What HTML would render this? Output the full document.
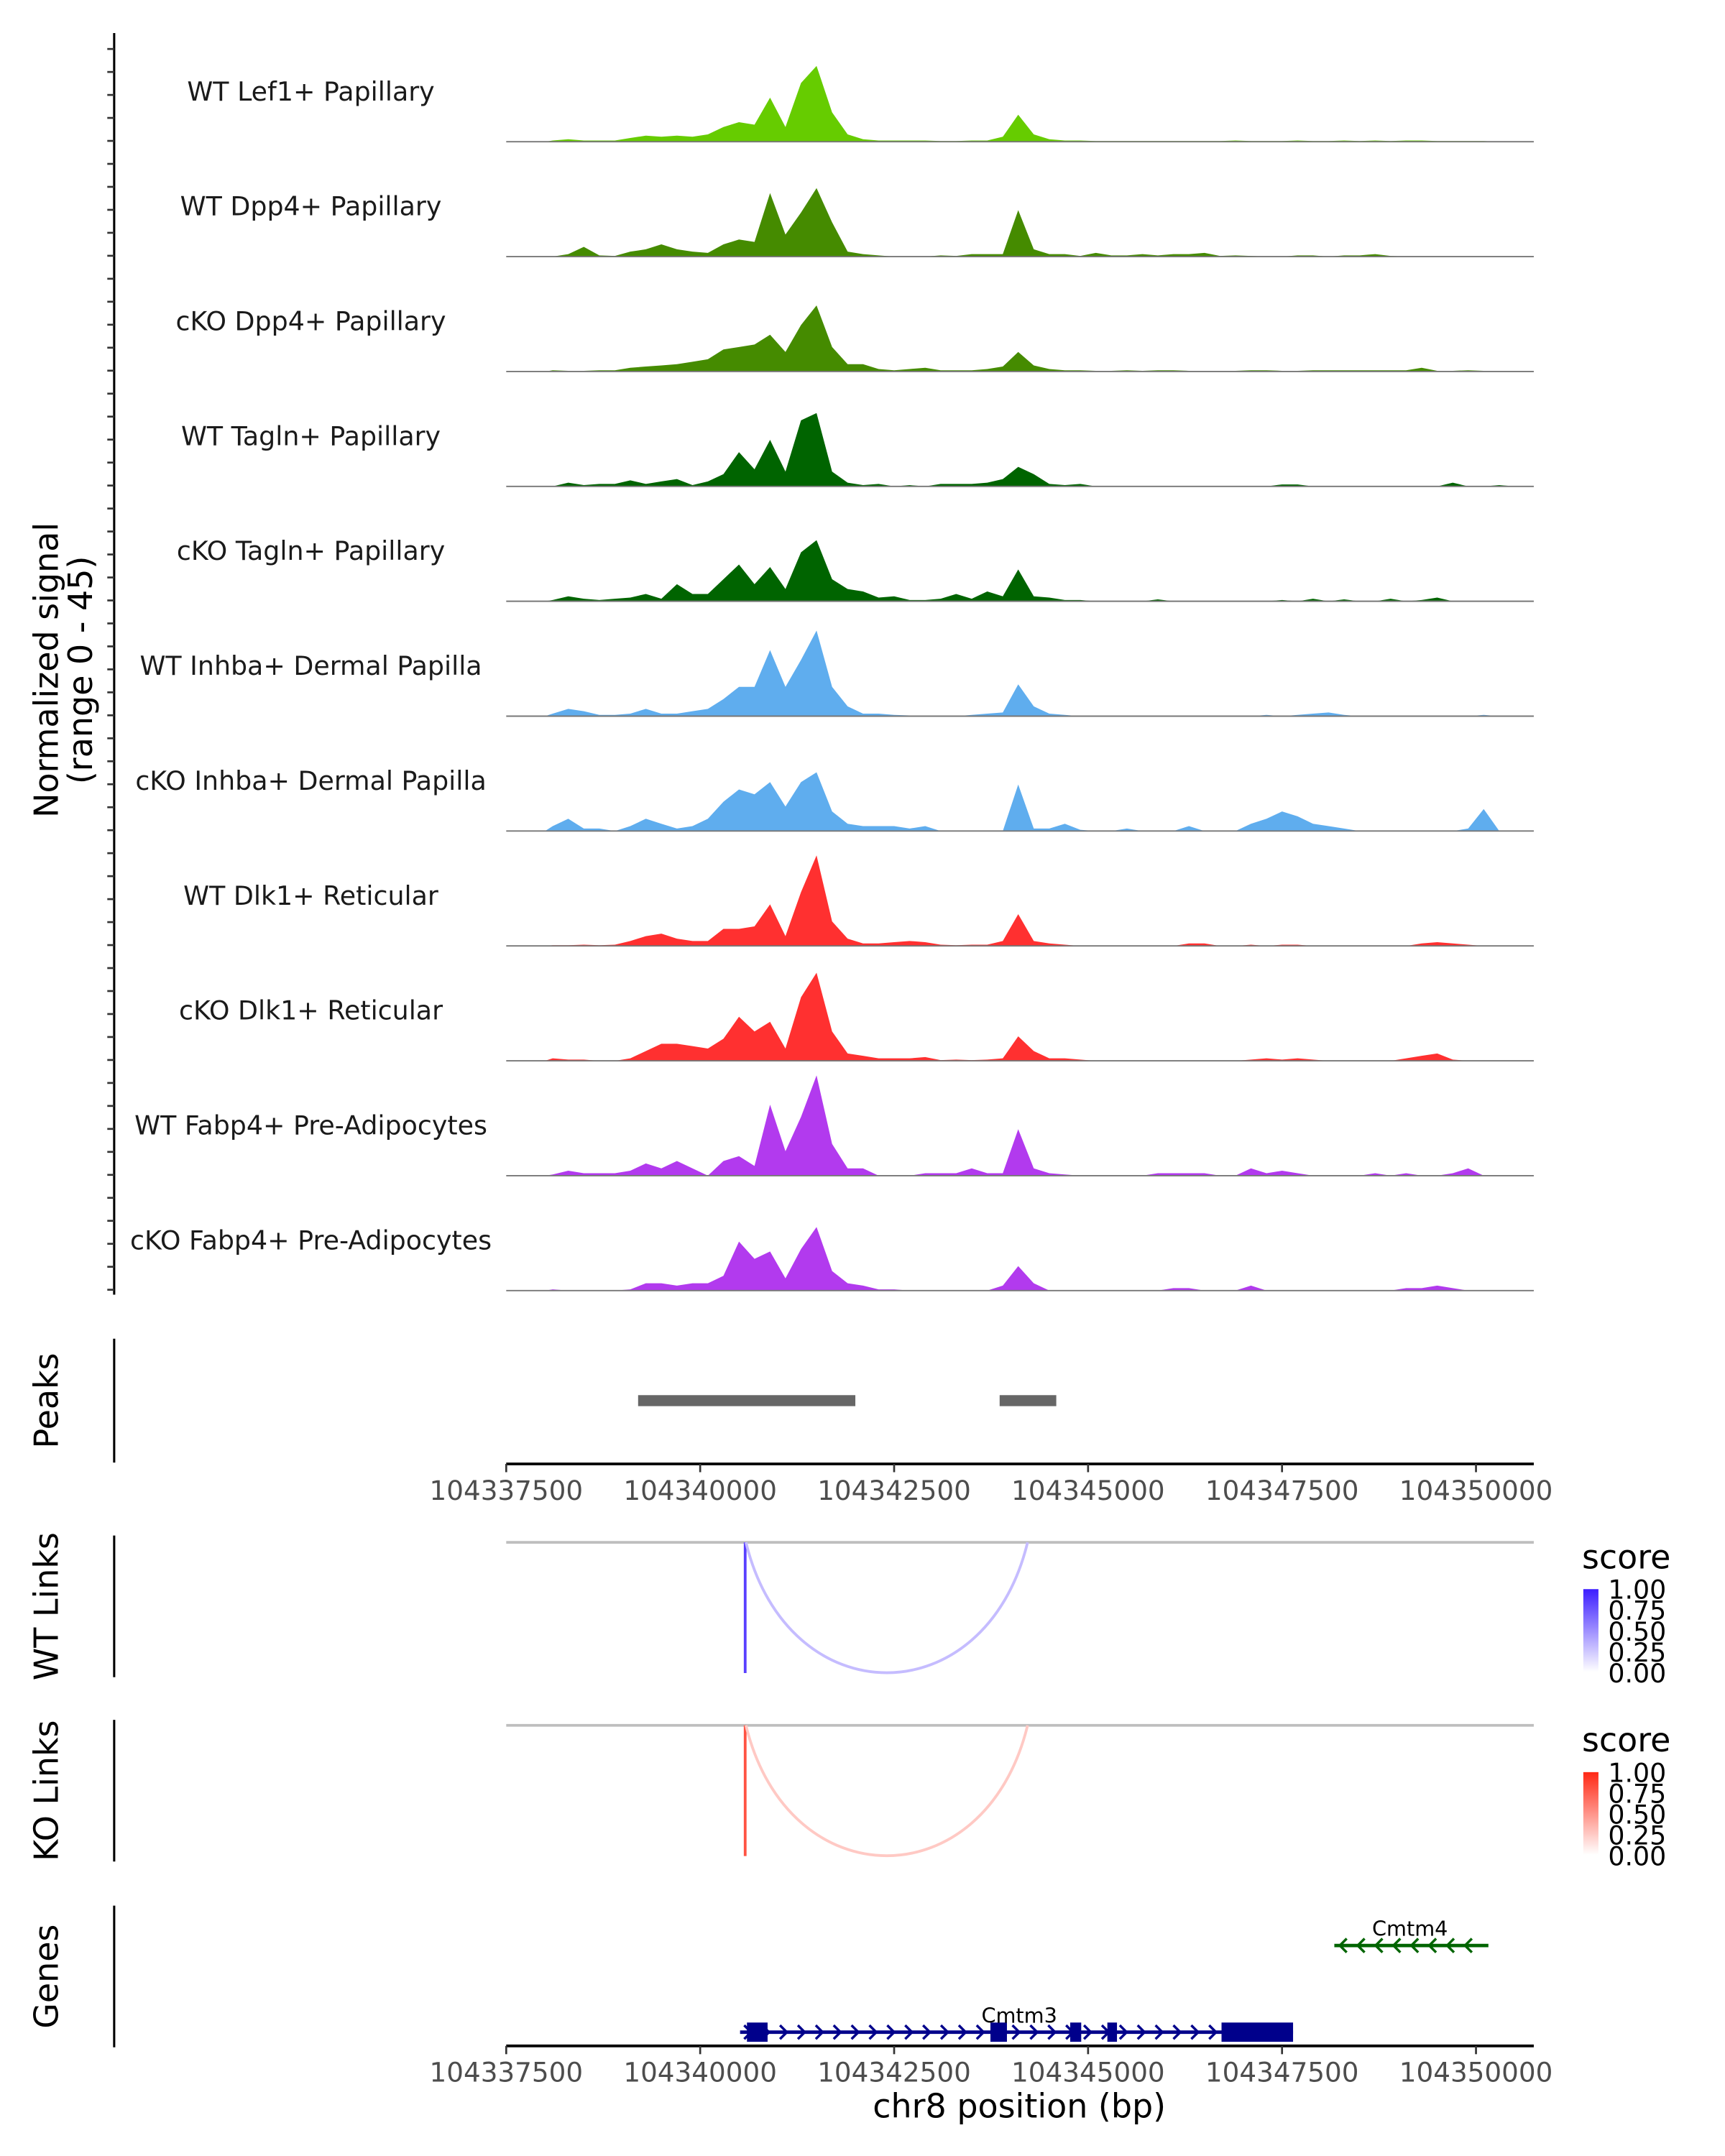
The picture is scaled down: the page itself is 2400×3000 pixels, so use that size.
<!DOCTYPE html>
<html><head><meta charset="utf-8"><style>
html,body{margin:0;padding:0;background:#fff}
svg{display:block}
text{font-family:"DejaVu Sans","Liberation Sans",sans-serif}
</style></head><body>
<svg id="chart" xmlns="http://www.w3.org/2000/svg" width="2400" height="3000" viewBox="0 0 1254 1567" preserveAspectRatio="none">
<g id="g"></g>
</svg>
<script>
const trackNames=["WT Lef1+ Papillary","WT Dpp4+ Papillary","cKO Dpp4+ Papillary","WT Tagln+ Papillary","cKO Tagln+ Papillary","WT Inhba+ Dermal Papilla","cKO Inhba+ Dermal Papilla","WT Dlk1+ Reticular","cKO Dlk1+ Reticular","WT Fabp4+ Pre-Adipocytes","cKO Fabp4+ Pre-Adipocytes"];
const trackColors=["#66cc00","#458b00","#458b00","#006400","#006400","#5fadee","#5fadee","#ff3030","#ff3030","#b23aee","#b23aee"];
const binStart=104338000;
const binWidth=200;
const sLef1=[0.5,1,0.5,0.5,0.5,1.5,2.5,2,2.5,2,3,6,8,7,18,6,24,31,12,3,1,0.5,0.5,0.5,0.5,0.3,0.3,0.5,0.5,2,11,3,1,0.5,0.5,0.3,0.3,0.3,0.3,0.3,0.3,0.3,0.3,0.3,0.5,0.3,0.3,0.3,0.5,0.3,0.3,0.5,0.3,0.5,0.3,0.5,0.5,0.3,0.3,0.3,0.3,0,0];
const sDpp4WT=[0,1,4,0.5,0.3,2,3,5,3,2,1.5,5,7,6,26,9,18,28,14,2,1,0.5,0,0,0,0.5,0.3,1,1,1,19,3,1,1,0.3,1.5,0.5,0.5,1,0.5,1,1,1.5,0.3,0.5,0.3,0,0,0.5,0.5,0,0.5,0.5,1,0.3,0,0,0,0,0,0,0,0];
const sDpp4KO=[0.5,0.3,0.3,0.5,0.5,1.5,2,2.5,3,4,5,9,10,11,15,8,19,27,10,3,3,1,0.5,1,1.5,0.5,0.5,0.5,1,2,8,2.5,1,0.5,0.5,0.3,0.3,0.5,0.3,0.5,0.5,0.3,0.3,0.3,0.3,0.5,0.5,0.3,0.3,0.5,0.5,0.5,0.5,0.5,0.5,0.5,1.5,0.3,0.3,0.5,0.3,0,0];
const sTaglnWT=[0,1.5,0.5,1,1,2.5,1,2,3,0.5,2,5,14,7,19,6,27,30,6,1.5,0.5,1,0,0.5,0,1,1,1,1.5,3,8,5,1,0.5,1,0,0,0,0,0,0,0,0,0,0,0,0,0.8,0.8,0,0,0,0,0,0,0,0,0,1.5,0,0,0.5,0];
const sTaglnKO=[0.5,2,1,0.5,1,1.5,3,1,7,3,3,9,15,7,14,5,20,25,9,5,4,1.5,2,0.5,0.5,1,3,1,4,2,13,2,1.5,0.5,0.5,0,0,0,0,0.8,0,0,0,0,0,0,0,0.5,0,1,0,0.8,0,0,1,0,0.5,1.5,0,0,0,0,0];
const sInhbaWT=[1,3,2,0.5,0.5,1,3,1,1,2,3,7,12,12,27,12,23,35,12,4,1,1,0.5,0.3,0.3,0,0,0.5,1,1.5,13,4,1,0.5,0,0,0,0,0,0,0,0,0,0,0,0,0.5,0,0.5,1,1.5,0.5,0,0,0,0,0,0,0,0,0.5,0,0];
const sInhbaKO=[2,5,1,1,0,2,5,3,1,2,5,12,17,15,20,10,20,24,8,3,2,2,2,1,2,0,0,0,0,0,19,1,1,3,0.5,0,0,1,0,0,0,2,0,0,0,3,5,8,6,3,2,1,0,0,0,0,0,0,0,1,9,0,0];
const sDlk1WT=[0.3,0.3,0.5,0.3,0.5,2,4,5,3,2,2,7,7,8,17,4,22,37,10,3,1,1,1.5,2,1.5,0.5,0.3,0.5,0.5,2,13,2,1,0.5,0,0,0,0,0,0,0,1,1,0,0,0.5,0,0.5,0.5,0,0,0,0,0,0,0,1,1.5,1,0.5,0,0,0];
const sDlk1KO=[1,0.5,0.5,0,0,1,4,7,7,6,5,9,18,12,16,5,26,36,12,3,2,1,1,1,1.5,0.3,0.5,0.3,0.5,1,10,4,1,1,0.5,0,0,0,0,0,0,0,0,0,0,0.5,1,0.5,1,0.5,0,0,0,0,0,1,2,3,0.5,0,0,0,0];
const sFabp4WT=[0.5,2,1,1,1,2,5,3,6,3,0,6,8,4,29,10,24,41,13,3,3,0,0,0,1,1,1,3,1,1,19,3,1,0.5,0,0,0,0,0,1,1,1,1,0,0,3,1,2,1,0,0,0,0,1,0,1,0,0,1,3,0,0,0];
const sFabp4KO=[0.5,0,0,0,0,0.5,3,3,2,3,3,6,20,13,16,5,17,26,8,3,2,0.5,0.5,0,0,0,0,0,0,2,10,3,0,0,0,0,0,0,0,0,1,1,0,0,0,2,0,0,0,0,0,0,0,0,0,1,1,2,1,0,0,0,0];
const signals=[sLef1,sDpp4WT,sDpp4KO,sTaglnWT,sTaglnKO,sInhbaWT,sInhbaKO,sDlk1WT,sDlk1KO,sFabp4WT,sFabp4KO];
const peakStarts=[104339200,104343860];
const peakEnds=[104342000,104344590];
const xTicks=[104337500,104340000,104342500,104345000,104347500,104350000];
const linkStarts=[104340580,104340590];
const linkEnds=[104340600,104344220];
const wtScores=[0.85,0.3];
const koScores=[0.8,0.25];
const legendTicks=["1.00","0.75","0.50","0.25","0.00"];

const NS="http://www.w3.org/2000/svg";
const g=document.getElementById('g');
function el(tag,attrs,parent){const e=document.createElementNS(NS,tag);for(const k in attrs)e.setAttribute(k,attrs[k]);(parent||g).appendChild(e);return e;}
const X0=368,X1=1115,D0=104337500,D1=104350745;
function xs(bp){return X0+(bp-D0)/(D1-D0)*(X1-X0);}
const maxRange=45,trackH=80;
function ys(v,base){return base-v/maxRange*trackH;}
const base0=103,trackStep=83.5;

let ax=el('line',{x1:83,y1:24,x2:83,y2:941,stroke:'#000','stroke-width':1.6});

for(let y=35.6;y<=940;y+=16.7){let t=el('line',{x1:78,y1:y,x2:83,y2:y,stroke:'#333','stroke-width':1.4});}
let yt=el('text',{x:0,y:0,transform:'translate(42,487) rotate(-90)','text-anchor':'middle','font-size':24,fill:'#000'});

yt.textContent='Normalized signal';
let yt2=el('text',{x:0,y:0,transform:'translate(67,487) rotate(-90)','text-anchor':'middle','font-size':24,fill:'#000'});

yt2.textContent='(range 0 - 45)';

signals.forEach((s,k)=>{
  const base=base0+k*trackStep;
  let d='M'+xs(binStart).toFixed(1)+','+base;
  s.forEach((v,i)=>{d+=' L'+xs(binStart+i*binWidth+binWidth/2).toFixed(1)+','+ys(v,base).toFixed(1);});
  d+=' L'+xs(binStart+s.length*binWidth).toFixed(1)+','+base+' Z';
  let p=el('path',{d:d,fill:trackColors[k]});
  
  let bl=el('line',{x1:X0,y1:base,x2:X1,y2:base,stroke:'#777','stroke-width':1});
  
  let lb=el('text',{x:226,y:base-30,'text-anchor':'middle','font-size':19,fill:'#1a1a1a'});
  
  lb.textContent=trackNames[k];
});

function sideLabel(txt,y1,y2,name){
  let l=el('line',{x1:83,y1:y1,x2:83,y2:y2,stroke:'#000','stroke-width':1.6});
  
  let t=el('text',{x:0,y:0,transform:'translate(42,'+((y1+y2)/2)+') rotate(-90)','text-anchor':'middle','font-size':24,fill:'#000'});
  
  t.textContent=txt;
}
sideLabel('Peaks',973,1063,'peaks');
sideLabel('WT Links',1116,1219,'wt-links');
sideLabel('KO Links',1250,1353,'ko-links');
sideLabel('Genes',1385,1488,'genes');

peakStarts.forEach((s,i)=>{
  let r=el('rect',{x:xs(s),y:1014,width:xs(peakEnds[i])-xs(s),height:8,fill:'#666'});
  
});

function xAxis(y,name){
  let l=el('line',{x1:X0,y1:y,x2:X1,y2:y,stroke:'#000','stroke-width':2});
  
  xTicks.forEach(t=>{
    let tk=el('line',{x1:xs(t),y1:y,x2:xs(t),y2:y+6,stroke:'#333','stroke-width':1.4});
    
    let tl=el('text',{x:xs(t),y:y+26,'text-anchor':'middle','font-size':19.5,fill:'#4d4d4d'});
    
    tl.textContent=t;
  });
}
xAxis(1064,'peaks-x-axis');
xAxis(1487,'genes-x-axis');
let xt=el('text',{x:741,y:1539,'text-anchor':'middle','font-size':24,fill:'#000'});

xt.textContent='chr8 position (bp)';

function blend(c,s){return 'rgb('+c.map(v=>Math.round(255-(255-v)*s)).join(',')+')';}
function links(top,scores,col,name){
  let gl=el('line',{x1:X0,y1:top,x2:X1,y2:top,stroke:'#bebebe','stroke-width':2});
  
  const depth=95;
  linkStarts.forEach((s,i)=>{
    const a=xs(s),b=xs(linkEnds[i]);
    let d;
    if(b-a<3){d='M'+a+','+top+' L'+a+','+(top+depth);}
    else{d='M'+a+','+top+' C'+(a+(b-a)*0.15)+','+(top+depth*1.33)+' '+(b-(b-a)*0.15)+','+(top+depth*1.33)+' '+b+','+top;}
    let p=el('path',{d:d,fill:'none',stroke:blend(col,scores[i]),'stroke-width':2});
    
  });
  const ly=top+11;
  let st=el('text',{x:1150,y:ly+8,'font-size':24,fill:'#000'});
  
  st.textContent='score';
  const gid='grad'+name;
  const defs=el('defs',{});
  const lg=el('linearGradient',{id:gid,x1:0,y1:1,x2:0,y2:0},defs);
  el('stop',{offset:0,'stop-color':'#fff'},lg);
  el('stop',{offset:1,'stop-color':blend(col,1)},lg);
  let r=el('rect',{x:1151,y:ly+23,width:11,height:60,fill:'url(#'+gid+')'});
  
  legendTicks.forEach((t,i)=>{
    let tt=el('text',{x:1169,y:ly+30+i*15.2,'font-size':19,fill:'#000'});
    
    tt.textContent=t;
  });
}
links(1121,wtScores,[60,30,255],'wt-links');
links(1254,koScores,[255,40,20],'ko-links');

function arrowsLine(x1,x2,y,col,dir,name){
  let l=el('line',{x1:x1,y1:y,x2:x2,y2:y,stroke:col,'stroke-width':2.5});
  
  for(let x=x1+6;x<x2-3;x+=13){
    let d=dir>0?'M'+(x-3)+','+(y-5)+' L'+(x+2)+','+y+' L'+(x-3)+','+(y+5):'M'+(x+3)+','+(y-5)+' L'+(x-2)+','+y+' L'+(x+3)+','+(y+5);
    let a=el('path',{d:d,fill:'none',stroke:col,'stroke-width':1.8});
    
  }
}
arrowsLine(970,1082,1414,'#006400',-1,'cmtm4');
let c4=el('text',{x:1025,y:1407,'text-anchor':'middle','font-size':15,fill:'#000'});
c4.textContent='Cmtm4';
arrowsLine(538,940,1477,'#00008b',1,'cmtm3');
[[543,558],[720,732],[778,786],[805,812],[888,940]].forEach(e=>{
  let r=el('rect',{x:e[0],y:1470,width:e[1]-e[0],height:14,fill:'#00008b'});
  
});
let c3=el('text',{x:741,y:1470,'text-anchor':'middle','font-size':15,fill:'#000'});
c3.textContent='Cmtm3';
</script>
</body></html>
